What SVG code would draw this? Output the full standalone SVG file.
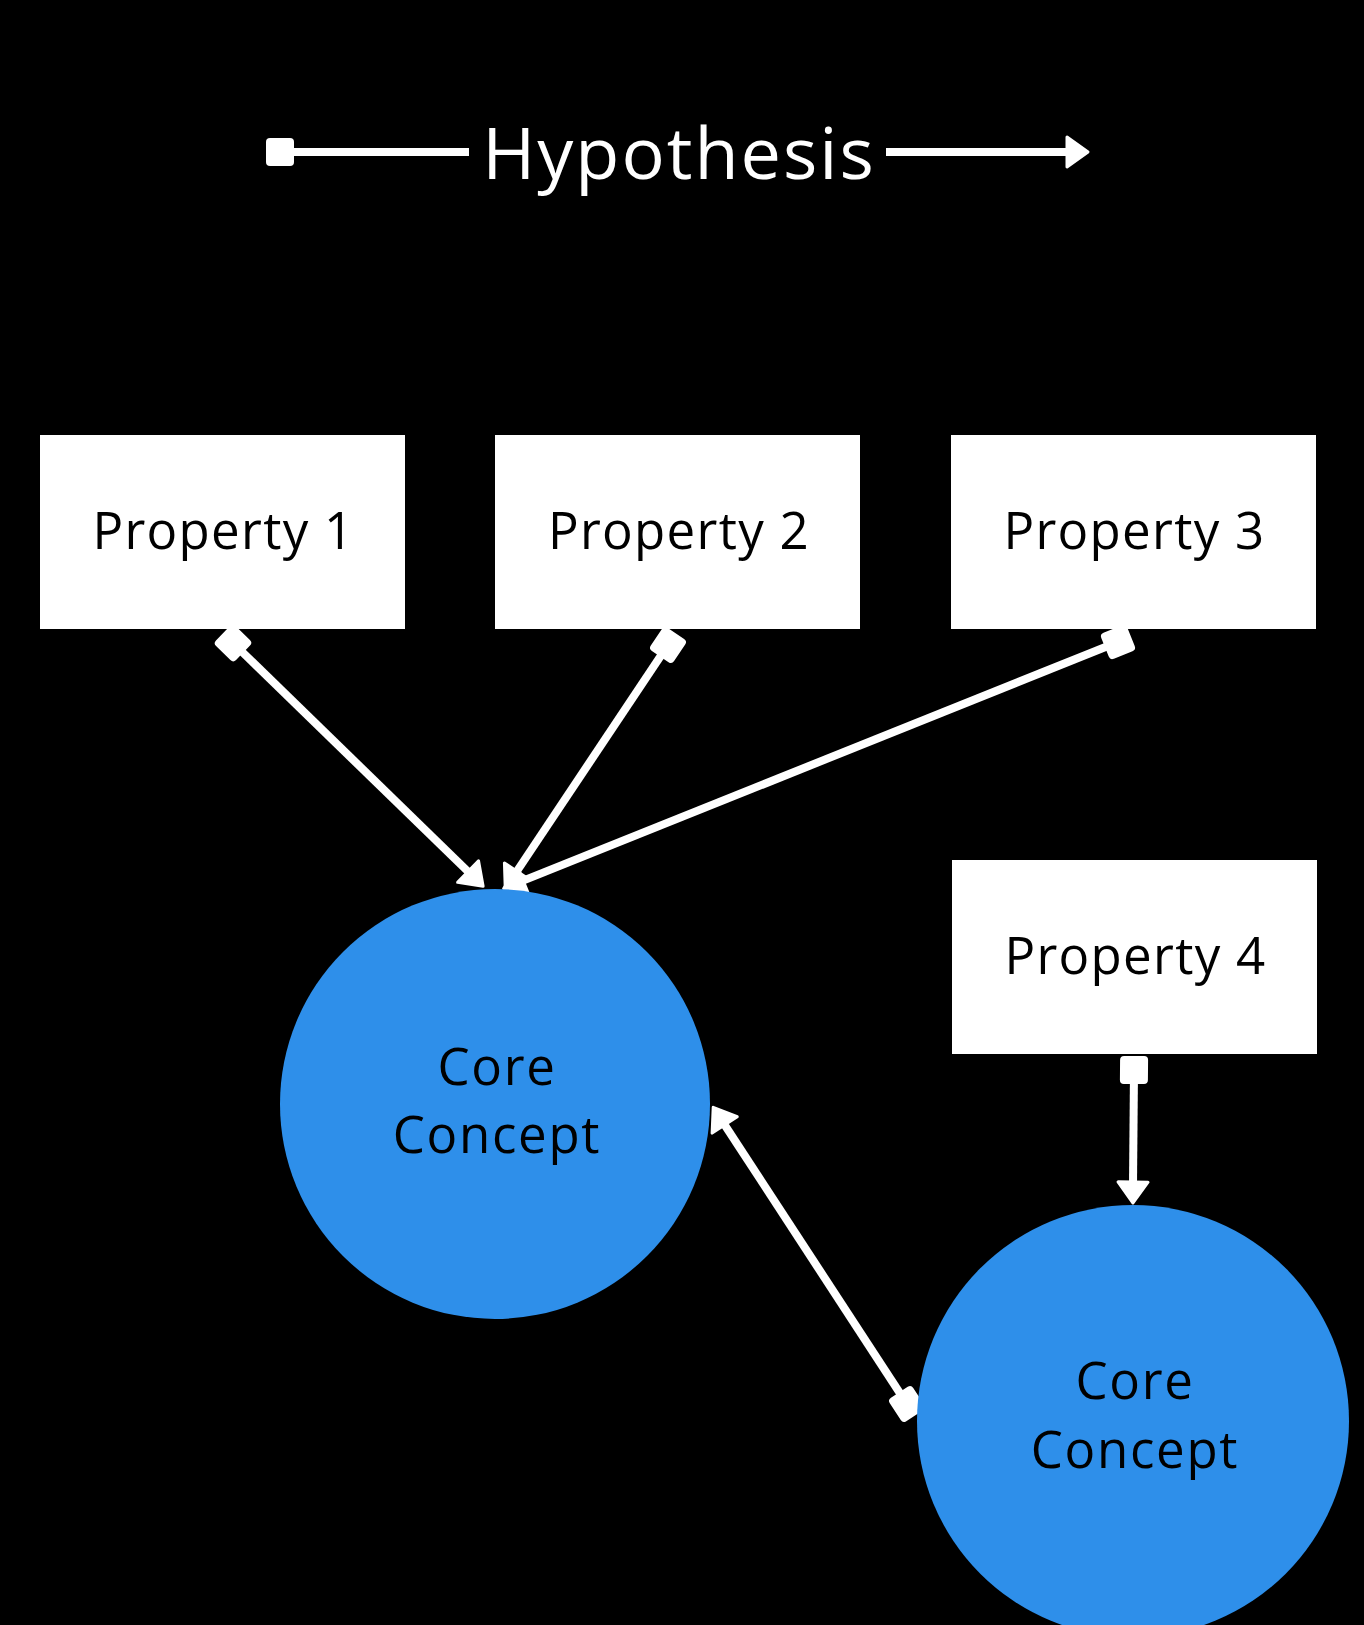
<svg xmlns="http://www.w3.org/2000/svg" width="1364" height="1625" viewBox="0 0 1364 1625">
  <defs>
    <style>
      .box { fill: #ffffff; }
      .concept { fill: #2e8fea; }
      .label { font-family: "Open Sans", "Liberation Sans", sans-serif; fill: #000000; text-anchor: middle; font-size: 51px; letter-spacing: 1.3px; }
      .concept-label { letter-spacing: 1.7px; }
      .title { font-family: "Open Sans", "Liberation Sans", sans-serif; fill: #ffffff; text-anchor: middle; font-size: 72px; letter-spacing: 2px; }
      .wire { stroke: #ffffff; stroke-width: 8; fill: none; }
    </style>
    <!-- rounded square cap at the start of a connector -->
    <marker id="sq" markerUnits="userSpaceOnUse" viewBox="-20 -20 40 40" markerWidth="40" markerHeight="40" refX="0" refY="0" orient="auto">
      <rect x="-14" y="-14" width="28" height="28" rx="4" fill="#ffffff"/>
    </marker>
    <!-- rounded triangular arrowhead at the end of a connector -->
    <marker id="arrow" markerUnits="userSpaceOnUse" viewBox="-4 -20 32 40" markerWidth="32" markerHeight="40" refX="2" refY="0" orient="auto">
      <path d="M0,-15 L21,0 L0,15 Z" fill="#ffffff" stroke="#ffffff" stroke-width="3" stroke-linejoin="round"/>
    </marker>
  </defs>

  <rect x="0" y="0" width="1364" height="1625" fill="#000000"/>

  <!-- title with its bracketing arrow -->
  <g id="title">
    <line class="wire" x1="280" y1="152" x2="469" y2="152" marker-start="url(#sq)"/>
    <line class="wire" x1="886" y1="152" x2="1069" y2="152" marker-end="url(#arrow)"/>
    <text class="title" x="679" y="179">Hypothesis</text>
  </g>

  <g id="connectors">
    <line class="wire" x1="233" y1="643" x2="469.5" y2="873" marker-start="url(#sq)" marker-end="url(#arrow)"/>
    <line class="wire" x1="668" y1="645" x2="515.8" y2="872.9" marker-start="url(#sq)" marker-end="url(#arrow)"/>
    <line class="wire" x1="1118" y1="642" x2="521.3" y2="881.4" marker-start="url(#sq)" marker-end="url(#arrow)"/>
    <line class="wire" x1="907" y1="1404" x2="723.6" y2="1123.2" marker-start="url(#sq)" marker-end="url(#arrow)"/>
    <line class="wire" x1="1134" y1="1070" x2="1133" y2="1184" marker-start="url(#sq)" marker-end="url(#arrow)"/>
  </g>

  <g id="property1">
    <rect class="box" x="40" y="435" width="365" height="194"/>
    <text class="label" x="223.5" y="549">Property 1</text>
  </g>
  <g id="property2">
    <rect class="box" x="495" y="435" width="365" height="194"/>
    <text class="label" x="679" y="549">Property 2</text>
  </g>
  <g id="property3">
    <rect class="box" x="951" y="435" width="365" height="194"/>
    <text class="label" x="1134.5" y="549">Property 3</text>
  </g>
  <g id="property4">
    <rect class="box" x="952" y="860" width="365" height="194"/>
    <text class="label" x="1135.5" y="974">Property 4</text>
  </g>

  <g id="core1">
    <circle class="concept" cx="495" cy="1104" r="215"/>
    <text class="label concept-label" x="497" y="1085">Core</text>
    <text class="label concept-label" x="497" y="1153">Concept</text>
  </g>
  <g id="core2">
    <circle class="concept" cx="1133" cy="1421" r="216"/>
    <text class="label concept-label" x="1135" y="1399">Core</text>
    <text class="label concept-label" x="1135" y="1468">Concept</text>
  </g>
</svg>
